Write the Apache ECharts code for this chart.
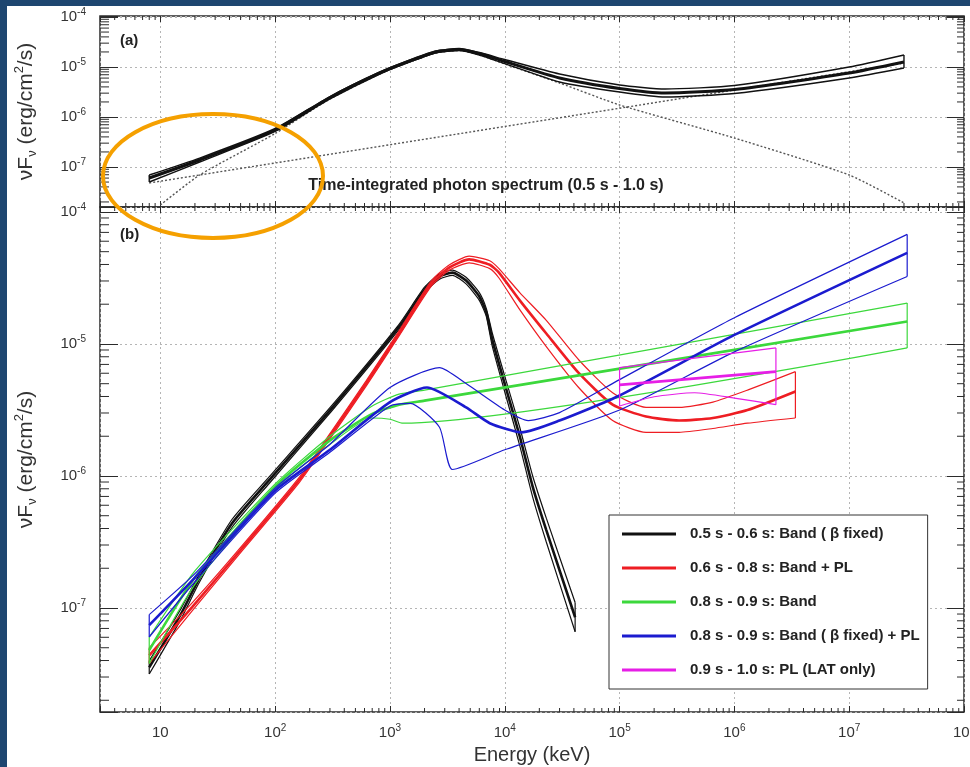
<!DOCTYPE html>
<html>
<head>
<meta charset="utf-8">
<script src="https://cdn.jsdelivr.net/npm/echarts@6/dist/echarts.min.js"></script>
<style>
  html, body { margin: 0; padding: 0; background: #ffffff; }
  #chart { width: 970px; height: 767px; }
</style>
</head>
<body>
<div id="chart"></div>
<script>
// ---------- Panel (a): time-integrated spectrum, 0.5 s - 1.0 s ----------
const aEnergy  = [8, 22, 100, 295, 815, 1570, 2500, 4000, 6000, 1e4, 3e4, 1e5, 2.5e5, 1e6, 1e7, 3e7];
const aFlux    = [6.03e-8, 1.38e-7, 5.50e-7, 2.40e-6, 7.59e-6, 1.38e-5, 2.00e-5, 2.24e-5, 1.86e-5, 1.29e-5, 6.03e-6, 3.72e-6, 3.02e-6, 3.55e-6, 7.59e-6, 1.26e-5];
const aFluxHi  = [6.92e-8, 1.51e-7, 5.89e-7, 2.51e-6, 7.94e-6, 1.45e-5, 2.09e-5, 2.34e-5, 1.95e-5, 1.41e-5, 7.24e-6, 4.37e-6, 3.63e-6, 4.27e-6, 1.00e-5, 1.74e-5];
const aFluxLo  = [5.01e-8, 1.26e-7, 5.13e-7, 2.24e-6, 7.24e-6, 1.32e-5, 1.91e-5, 2.14e-5, 1.74e-5, 1.17e-5, 5.01e-6, 3.16e-6, 2.51e-6, 2.95e-6, 6.03e-6, 9.55e-6];
// Band and power-law components (dotted)
const aBandEnergy = [10, 22, 100, 295, 815, 1570, 2500, 4000, 6000, 1e4, 3e4, 1e5, 1e6, 1e7, 3e7];
const aBandFlux   = [1.74e-8, 6.92e-8, 4.68e-7, 2.24e-6, 7.24e-6, 1.32e-5, 1.91e-5, 2.14e-5, 1.74e-5, 1.15e-5, 4.79e-6, 1.74e-6, 3.80e-7, 6.92e-8, 1.91e-8];
const aPlEnergy   = [8, 3e7];
const aPlFlux     = [4.79e-8, 1.20e-5];

// ---------- Panel (b): time-resolved spectra ----------
// 0.5 s - 0.6 s : Band (beta fixed)
const kEnergy = [8, 15, 22, 42, 89, 316, 1200, 2000, 2700, 3500, 4600, 6000, 6900, 7800, 10200, 13500, 17500, 23000, 41000];
const kFlux   = [3.55e-8, 8.91e-8, 1.70e-7, 4.37e-7, 9.33e-7, 3.31e-6, 1.35e-5, 2.57e-5, 3.24e-5, 3.47e-5, 3.02e-5, 2.29e-5, 1.74e-5, 1.07e-5, 4.68e-6, 2.00e-6, 8.32e-7, 3.89e-7, 8.51e-8];
const kFluxHi = [3.98e-8, 9.77e-8, 1.82e-7, 4.68e-7, 9.89e-7, 3.47e-6, 1.41e-5, 2.69e-5, 3.39e-5, 3.63e-5, 3.20e-5, 2.45e-5, 1.86e-5, 1.20e-5, 5.37e-6, 2.34e-6, 1.00e-6, 4.79e-7, 1.10e-7];
const kFluxLo = [3.16e-8, 8.13e-8, 1.58e-7, 4.07e-7, 8.81e-7, 3.16e-6, 1.29e-5, 2.45e-5, 3.09e-5, 3.31e-5, 2.85e-5, 2.14e-5, 1.62e-5, 9.55e-6, 4.07e-6, 1.70e-6, 6.92e-7, 3.16e-7, 6.61e-8];

// 0.6 s - 0.8 s : Band + PL
const rEnergy = [8, 19, 50, 162, 316, 620, 1200, 2300, 3300, 4900, 7400, 8900, 13500, 23000, 44000, 87000, 1.7e5, 3.3e5, 6.5e5, 1.3e6, 3.4e6];
const rFlux   = [4.37e-8, 1.02e-7, 2.75e-7, 9.33e-7, 2.14e-6, 5.01e-6, 1.20e-5, 2.88e-5, 3.80e-5, 4.37e-5, 3.98e-5, 3.47e-5, 2.14e-5, 1.20e-5, 6.03e-6, 3.47e-6, 2.82e-6, 2.63e-6, 2.75e-6, 3.16e-6, 4.37e-6];
const rFluxHi = [5.01e-8, 1.10e-7, 2.88e-7, 9.77e-7, 2.24e-6, 5.25e-6, 1.26e-5, 3.02e-5, 3.98e-5, 4.62e-5, 4.27e-5, 3.72e-5, 2.45e-5, 1.51e-5, 7.59e-6, 4.27e-6, 3.31e-6, 3.31e-6, 3.63e-6, 4.47e-6, 6.17e-6];
const rFluxLo = [3.80e-8, 9.55e-8, 2.63e-7, 8.91e-7, 2.04e-6, 4.79e-6, 1.15e-5, 2.75e-5, 3.63e-5, 4.12e-5, 3.72e-5, 3.16e-5, 1.82e-5, 9.55e-6, 4.68e-6, 2.63e-6, 2.14e-6, 2.14e-6, 2.29e-6, 2.51e-6, 2.75e-6];

// 0.8 s - 0.9 s : Band
const gEnergy   = [8, 20, 100, 300, 700, 1200, 2000, 3.2e7];
const gFlux     = [4.79e-8, 1.70e-7, 8.32e-7, 1.86e-6, 2.95e-6, 3.47e-6, 3.72e-6, 1.48e-5];
const gFluxHi   = [6.03e-8, 1.91e-7, 8.71e-7, 2.00e-6, 3.39e-6, 4.17e-6, 4.47e-6, 2.04e-5];
const gEnergyLo = [8, 20, 100, 300, 700, 1000, 1300, 3.2e7];
const gFluxLo   = [3.80e-8, 1.51e-7, 7.94e-7, 1.74e-6, 2.75e-6, 2.69e-6, 2.51e-6, 9.33e-6];

// 0.8 s - 0.9 s : Band (beta fixed) + PL
const bEnergy   = [8, 20, 100, 300, 1000, 2100, 4600, 7400, 14000, 30000, 1e5, 1e6, 3.2e7];
const bFlux     = [7.41e-8, 1.70e-7, 7.76e-7, 1.58e-6, 3.63e-6, 4.68e-6, 3.31e-6, 2.51e-6, 2.14e-6, 2.63e-6, 4.07e-6, 1.17e-5, 4.90e-5];
const bEnergyHi = [8, 20, 100, 300, 1000, 2700, 4600, 1e4, 16000, 30000, 1e5, 1e6, 3.2e7];
const bFluxHi   = [8.91e-8, 1.82e-7, 8.13e-7, 1.74e-6, 4.68e-6, 6.61e-6, 5.01e-6, 3.16e-6, 2.63e-6, 3.02e-6, 5.37e-6, 1.58e-5, 6.76e-5];
const bEnergyLo = [8, 20, 100, 300, 1000, 1500, 2700, 3500, 1e4, 1e5, 1e6, 3.2e7];
const bFluxLo   = [6.03e-8, 1.58e-7, 7.41e-7, 1.51e-6, 3.39e-6, 3.55e-6, 2.34e-6, 1.12e-6, 1.58e-6, 3.16e-6, 8.71e-6, 3.24e-5];

// 0.9 s - 1.0 s : PL (LAT only)
const mEnergy   = [1e5, 2.3e6];
const mFlux     = [4.90e-6, 6.17e-6];
const mFluxHi   = [6.61e-6, 9.33e-6];
const mEnergyLo = [1e5, 2e5, 4.5e5, 1e6, 2.3e6];
const mFluxLo   = [3.39e-6, 3.98e-6, 4.27e-6, 3.89e-6, 3.47e-6];

const legendNames = [
  '0.5 s - 0.6 s: Band ( \u03b2 fixed)',
  '0.6 s - 0.8 s: Band + PL',
  '0.8 s - 0.9 s: Band',
  '0.8 s - 0.9 s: Band ( \u03b2 fixed) + PL',
  '0.9 s - 1.0 s: PL (LAT only)'
];
const modelColors = ['#111111', '#ee1d23', '#3cd83c', '#1b1bcf', '#e61ee6'];

// axis ranges (keV, erg/cm^2/s)
const X_MIN = 2.98, X_MAX = 1e8;
const A_Y = [1.585e-8, 1.047e-4];
const B_Y = [1.63e-8, 1.09e-4];

// ---------- helpers ----------
const FONT = '"Liberation Sans", Arial, Helvetica, sans-serif';
const INK = '#2b2b2b';

function pairs(e, f) { return e.map((x, i) => [x, f[i]]); }
function powLabel(v) {
  const e = Math.log10(v), n = Math.round(e);
  if (Math.abs(e - n) > 1e-6) return '';
  if (n === 1) return '{b|10}';
  return '{b|10}{s|' + n + '}';
}
const labelRich = {
  b: { fontSize: 15, color: '#333', fontFamily: FONT, lineHeight: 20 },
  s: { fontSize: 10, color: '#333', fontFamily: FONT, lineHeight: 10, verticalAlign: 'top' }
};
const nameRich = {
  a: { fontSize: 21, color: '#333', fontFamily: FONT, lineHeight: 26 },
  u: { fontSize: 13, color: '#333', fontFamily: FONT, lineHeight: 13, verticalAlign: 'bottom' },
  p: { fontSize: 13, color: '#333', fontFamily: FONT, lineHeight: 13, verticalAlign: 'top' }
};
const yName = '{a|\u03bdF}{u|\u03bd}{a| (erg/cm}{p|2}{a|/s)}';

// minor (2..9 per decade) tick positions along all four edges of a panel
function minorTicks(yRange) {
  const out = [];
  for (let d = 0; d <= 7; d++) {
    for (let k = 2; k <= 9; k++) {
      const v = k * Math.pow(10, d);
      if (v > X_MIN && v < X_MAX) { out.push([v, 1e-6, 0]); out.push([v, 1e-6, 1]); }
    }
  }
  for (let d = -8; d <= -4; d++) {
    for (let k = 2; k <= 9; k++) {
      const v = k * Math.pow(10, d);
      if (v > yRange[0] && v < yRange[1]) { out.push([100, v, 2]); out.push([100, v, 3]); }
    }
  }
  return out;
}
function renderMinor(params, api) {
  const code = api.value(2);
  const p = api.coord([api.value(0), api.value(1)]);
  const cs = params.coordSys;
  const bottom = cs.y + cs.height, right = cs.x + cs.width;
  let shape;
  if (code === 0) shape = { x1: p[0], y1: bottom, x2: p[0], y2: bottom - 4 };
  else if (code === 1) shape = { x1: p[0], y1: cs.y, x2: p[0], y2: cs.y + 4 };
  else if (code === 2) shape = { x1: cs.x, y1: p[1], x2: cs.x + 9, y2: p[1] };
  else shape = { x1: right, y1: p[1], x2: right - 7, y2: p[1] };
  return { type: 'line', shape: shape, style: { stroke: INK, lineWidth: 1 } };
}

function xAxisDef(grid, pos, withLabels) {
  return {
    gridIndex: grid, type: 'log', logBase: 10, min: X_MIN, max: X_MAX, position: pos,
    axisLine: { show: false },
    axisTick: { show: true, inside: true, length: 6, lineStyle: { color: INK, width: 1 } },
    axisLabel: withLabels
      ? { show: true, formatter: powLabel, rich: labelRich, margin: 11, showMinLabel: true, showMaxLabel: true, hideOverlap: false }
      : { show: false },
    splitLine: { show: pos === 'bottom', lineStyle: { type: [2, 3], color: '#b5b5b5', width: 1 } },
    name: withLabels ? 'Energy (keV)' : '',
    nameLocation: 'middle', nameGap: 32,
    nameTextStyle: { fontSize: 20, color: '#333', fontFamily: FONT }
  };
}
function yAxisDef(grid, pos, range) {
  const left = pos === 'left';
  return {
    gridIndex: grid, type: 'log', logBase: 10, min: range[0], max: range[1], position: pos,
    axisLine: { show: false },
    axisTick: { show: true, inside: true, length: left ? 18 : 17, lineStyle: { color: INK, width: 1 } },
    axisLabel: left
      ? { show: true, formatter: powLabel, rich: labelRich, margin: 14, showMinLabel: true, showMaxLabel: true, hideOverlap: false }
      : { show: false },
    splitLine: { show: left, lineStyle: { type: [2, 3], color: '#b5b5b5', width: 1 } },
    name: left ? yName : '',
    nameLocation: 'middle', nameGap: 61, nameRotate: 90,
    nameTextStyle: { rich: nameRich }
  };
}

// one polyline on the chosen panel
function curve(name, axis, data, color, width, extra) {
  return Object.assign({
    name: name, type: 'line', xAxisIndex: axis, yAxisIndex: axis,
    data: data, showSymbol: false, symbol: 'none',
    lineStyle: { color: color, width: width }, itemStyle: { color: color },
    silent: true, z: 3
  }, extra || {});
}
const SMOOTH = { smooth: 0.2 };

// confidence band: upper and lower envelopes, end caps, and the best-fit line
function bandSeries(name, axis, color, eHi, fHi, eLo, fLo, eMid, fMid, wThin, wThick) {
  const nH = eHi.length - 1, nL = eLo.length - 1;
  return [
    curve(name, axis, pairs(eHi, fHi), color, wThin, SMOOTH),
    curve(name, axis, pairs(eLo, fLo), color, wThin, SMOOTH),
    curve(name, axis, [[eHi[0], fHi[0]], [eLo[0], fLo[0]]], color, wThin),
    curve(name, axis, [[eHi[nH], fHi[nH]], [eLo[nL], fLo[nL]]], color, wThin),
    curve(name, axis, pairs(eMid, fMid), color, wThick, SMOOTH)
  ];
}

const series = []
  // panel (a)
  .concat(bandSeries('a-total', 0, '#111', aEnergy, aFluxHi, aEnergy, aFluxLo, aEnergy, aFlux, 1.4, 3))
  .concat([
    curve('a-bandcomp', 0, pairs(aBandEnergy, aBandFlux), '#555', 1.4, { z: 2, smooth: 0.2 }),
    curve('a-pl', 0, pairs(aPlEnergy, aPlFlux), '#555', 1.4, { z: 2 })
  ])
  // panel (b)
  .concat(bandSeries(legendNames[0], 2, modelColors[0], kEnergy, kFluxHi, kEnergy, kFluxLo, kEnergy, kFlux, 1.2, 2.6))
  .concat(bandSeries(legendNames[1], 2, modelColors[1], rEnergy, rFluxHi, rEnergy, rFluxLo, rEnergy, rFlux, 1.2, 2.6))
  .concat(bandSeries(legendNames[2], 2, modelColors[2], gEnergy, gFluxHi, gEnergyLo, gFluxLo, gEnergy, gFlux, 1.2, 2.6))
  .concat(bandSeries(legendNames[3], 2, modelColors[3], bEnergyHi, bFluxHi, bEnergyLo, bFluxLo, bEnergy, bFlux, 1.2, 2.6))
  .concat(bandSeries(legendNames[4], 2, modelColors[4], mEnergy, mFluxHi, mEnergyLo, mFluxLo, mEnergy, mFlux, 1.2, 2.6))
  .concat([
    {
      type: 'custom', xAxisIndex: 0, yAxisIndex: 0, silent: true, z: 6,
      dimensions: ['x', 'y', 'edge'], encode: { x: 0, y: 1 },
      data: minorTicks(A_Y), renderItem: renderMinor
    },
    {
      type: 'custom', xAxisIndex: 2, yAxisIndex: 2, silent: true, z: 6,
      dimensions: ['x', 'y', 'edge'], encode: { x: 0, y: 1 },
      data: minorTicks(B_Y), renderItem: renderMinor
    }
  ]);
// the dotted components
series.forEach(s => { if (s.name === 'a-bandcomp' || s.name === 'a-pl') s.lineStyle.type = [2, 2]; });

const chart = echarts.init(document.getElementById('chart'), null, { renderer: 'canvas', width: 970, height: 767 });
chart.setOption({
  animation: false,
  backgroundColor: '#ffffff',
  textStyle: { fontFamily: FONT },
  grid: [
    { left: 100, top: 16, width: 864, height: 191, containLabel: false, outerBoundsMode: 'none',
      show: true, borderColor: INK, borderWidth: 1.5, backgroundColor: 'transparent' },
    { left: 100, top: 207, width: 864, height: 505, containLabel: false, outerBoundsMode: 'none',
      show: true, borderColor: INK, borderWidth: 1.5, backgroundColor: 'transparent' }
  ],
  xAxis: [
    xAxisDef(0, 'bottom', false),
    xAxisDef(0, 'top', false),
    xAxisDef(1, 'bottom', true),
    xAxisDef(1, 'top', false)
  ],
  yAxis: [
    yAxisDef(0, 'left', A_Y),
    yAxisDef(0, 'right', A_Y),
    yAxisDef(1, 'left', B_Y),
    yAxisDef(1, 'right', B_Y)
  ],
  legend: {
    data: legendNames, left: 609, top: 515, orient: 'vertical',
    icon: 'rect', itemWidth: 54, itemHeight: 3, itemGap: 18,
    padding: [11, 8, 11, 13], selectedMode: false,
    backgroundColor: '#ffffff', borderColor: '#333', borderWidth: 1, borderRadius: 0,
    textStyle: { fontSize: 15, fontWeight: 'bold', color: '#222', fontFamily: FONT, lineHeight: 16, padding: [0, 0, 0, 9] }
  },
  series: series,
  graphic: [
    { type: 'rect', shape: { x: 0, y: 0, width: 970, height: 6 }, style: { fill: '#1e4670' }, silent: true, z: 0 },
    { type: 'rect', shape: { x: 0, y: 0, width: 7, height: 767 }, style: { fill: '#1e4670' }, silent: true, z: 0 },
    { type: 'text', x: 120, y: 33, style: { text: '(a)', font: 'bold 15px ' + FONT, fill: '#222' }, silent: true, z: 10 },
    { type: 'text', x: 120, y: 227, style: { text: '(b)', font: 'bold 15px ' + FONT, fill: '#222' }, silent: true, z: 10 },
    {
      type: 'text', x: 486, y: 186,
      style: {
        text: 'Time-integrated photon spectrum (0.5 s - 1.0 s)', font: 'bold 16px ' + FONT, fill: '#222',
        textAlign: 'center', textVerticalAlign: 'middle', align: 'center', verticalAlign: 'middle'
      },
      silent: true, z: 10
    },
    {
      type: 'ellipse', shape: { cx: 213, cy: 176, rx: 110, ry: 62 },
      style: { fill: 'none', stroke: '#f5a000', lineWidth: 4 }, silent: true, z: 20
    }
  ]
});
</script>
</body>
</html>
